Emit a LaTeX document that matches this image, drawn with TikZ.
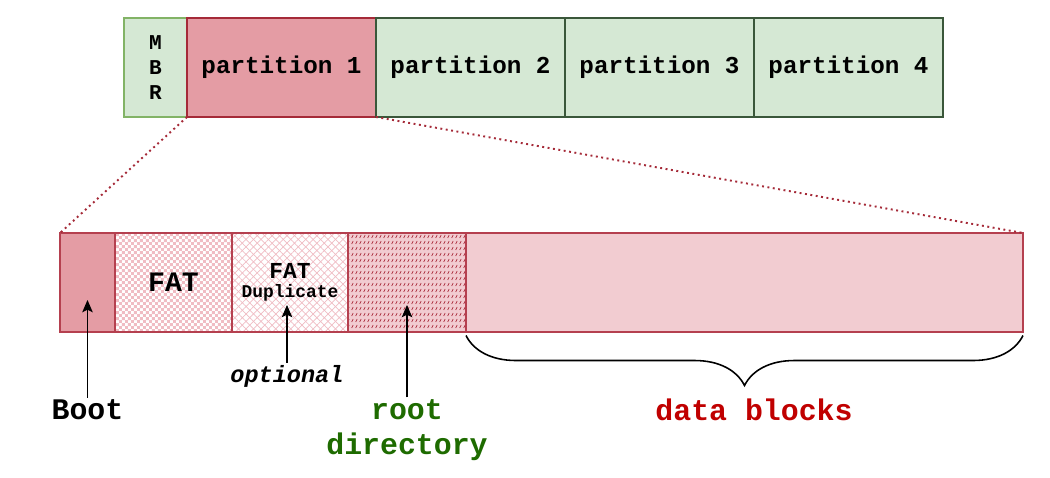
\documentclass[tikz,border=0pt]{standalone}
\usepackage{fontspec}
\newfontfamily\cour{Liberation Mono}
\usepackage{tikz}
\usetikzlibrary{positioning,patterns,patterns.meta,arrows.meta,decorations.pathreplacing}
\definecolor{MbrGreen}{HTML}{D5E8D4}
\definecolor{MbrEdge}{HTML}{82B366}
\definecolor{PartEdge}{HTML}{3A573A}
\definecolor{PartRed}{HTML}{E49CA4}
\definecolor{PartRedEdge}{HTML}{A52A38}
\definecolor{BlockEdge}{HTML}{B5404F}
\definecolor{DataPink}{HTML}{F2CCD1}
\definecolor{HatchPink}{HTML}{F0BCC3}
\definecolor{SlashRed}{HTML}{A82838}
\definecolor{RootGreen}{HTML}{1E6B00}
\definecolor{DataRed}{HTML}{C00000}
% small checker and slash tiles
\pgfdeclarepatternformonly{finechecker}{\pgfpointorigin}{\pgfpoint{3.4pt}{3.4pt}}{\pgfpoint{3.4pt}{3.4pt}}{%
  \pgfpathrectangle{\pgfpointorigin}{\pgfpoint{1.7pt}{1.7pt}}%
  \pgfpathrectangle{\pgfpoint{1.7pt}{1.7pt}}{\pgfpoint{1.7pt}{1.7pt}}%
  \pgfusepath{fill}}
\pgfdeclarepatternformonly{slashrows}{\pgfpointorigin}{\pgfpoint{2.3pt}{3.4pt}}{\pgfpoint{2.3pt}{3.4pt}}{%
  \pgfsetlinewidth{0.45pt}%
  \pgfpathmoveto{\pgfpoint{0.5pt}{0.6pt}}\pgfpathlineto{\pgfpoint{1.5pt}{2.3pt}}%
  \pgfusepath{stroke}}
\tikzset{%
  cell/.style={draw, line width=1.1pt, outer sep=0pt, inner sep=0pt,
    minimum height=1.98cm, font=\cour\bfseries},
  mbrbox/.style={cell, fill=MbrGreen, draw=MbrEdge, minimum width=1.26cm,
    align=center, font=\cour\bfseries\fontsize{12}{14.4}\selectfont},
  partbox/.style={cell, fill=MbrGreen, draw=PartEdge, minimum width=3.78cm,
    font=\cour\bfseries\fontsize{13.8}{16}\selectfont},
  bootbox/.style={cell, fill=PartRed, draw=BlockEdge},
  fatbox/.style={cell, draw=BlockEdge, preaction={fill=white},
    preaction={pattern=finechecker, pattern color=HatchPink}},
  dupbox/.style={cell, draw=BlockEdge, preaction={fill=white},
    preaction={pattern={Lines[angle=45,distance=3pt,line width=.4pt]}, pattern color=HatchPink},
    preaction={pattern={Lines[angle=-45,distance=3pt,line width=.4pt]}, pattern color=HatchPink}},
  rootbox/.style={cell, draw=BlockEdge, preaction={fill=DataPink},
    preaction={pattern=slashrows, pattern color=SlashRed}},
  databox/.style={cell, fill=DataPink, draw=BlockEdge},
  zoomline/.style={dotted, line width=1.1pt, draw=PartRedEdge},
  pointer/.style={line width=.6pt, -{Stealth[length=7pt,width=6pt,inset=1.5pt]}},
  caption/.style={font=\cour\bfseries\fontsize{17}{20}\selectfont, inner sep=1pt, align=center}
}
\begin{document}
\begin{tikzpicture}
  \useasboundingbox (0,0) rectangle (21,-9.56);
  % disk layout
  \node[mbrbox] (mbr) at (3.11,-1.35) {M\\B\\R};
  \node[partbox, fill=PartRed, draw=PartRedEdge, right=0pt of mbr] (p1) {partition 1};
  \foreach \i/\prev in {2/1,3/2,4/3}
    \node[partbox, right=0pt of p\prev] (p\i) {partition \i};
  % partition contents
  \node[bootbox, minimum width=1.1cm] (boot) at (1.75,-5.65) {};
  \node[fatbox, minimum width=2.34cm, right=0pt of boot,
    font=\cour\bfseries\fontsize{16}{18}\selectfont] (fat) {FAT};
  \node[dupbox, minimum width=2.32cm, right=0pt of fat, align=center] (dup)
    {\fontsize{13}{15}\selectfont FAT\\[-1pt]\fontsize{10.2}{12}\selectfont Duplicate};
  \node[rootbox, minimum width=2.36cm, right=0pt of dup] (root) {};
  \node[databox, minimum width=11.14cm, right=0pt of root] (data) {};
  \draw[zoomline] (p1.south west) -- (boot.north west);
  \draw[zoomline] (p1.south east) -- (data.north east);
  % labels
  \node[caption] (bootlbl) at (1.75,-8.2) {Boot};
  \node[caption, font=\cour\bfseries\itshape\fontsize{13.4}{16}\selectfont] (optlbl) at (5.74,-7.52) {optional};
  \node[caption, text=RootGreen] (rootlbl) at (8.14,-8.6) {root\\directory};
  \node[caption, text=DataRed] (datalbl) at (15.08,-8.2) {data blocks};
  \draw[pointer] (boot.south |- bootlbl.north) -- ([yshift=.64cm]boot.south);
  \draw[pointer] (optlbl.north) -- ([yshift=.54cm]optlbl.north |- dup.south);
  \draw[pointer] (rootlbl.north -| root.south) -- ([yshift=.54cm]root.south);
  \draw[line width=.9pt, decorate, decoration={brace, mirror, amplitude=1cm, raise=2pt}]
    (data.south west) -- (data.south east);
\end{tikzpicture}
\end{document}
